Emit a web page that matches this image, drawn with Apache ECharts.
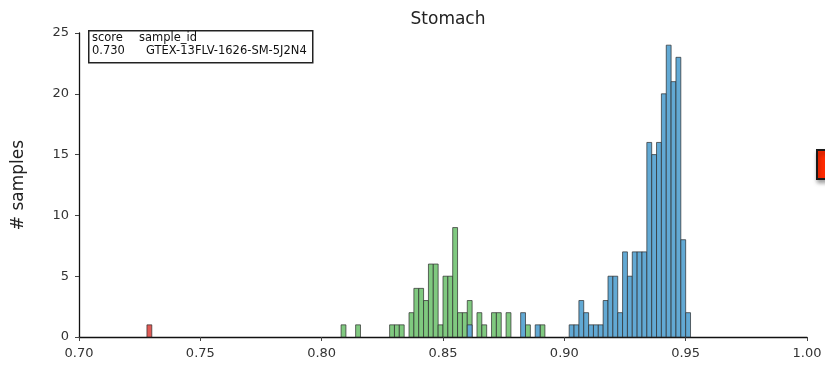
<!DOCTYPE html>
<html><head><meta charset="utf-8">
<script src="https://cdn.jsdelivr.net/npm/echarts@6/dist/echarts.min.js"></script>
<style>html,body{margin:0;padding:0;background:#fff}#c{width:825px;height:377px}</style>
</head><body><div id="c"></div>
<script>
var binWidth = 0.002;
var xTicks = [0.70, 0.75, 0.80, 0.85, 0.90, 0.95, 1.00];
var yTicks = [0, 5, 10, 15, 20, 25];
var redBins = [0.728];
var redCounts = [1];
var greenBins = [0.808, 0.814, 0.828, 0.830, 0.832, 0.836, 0.838, 0.840, 0.842, 0.844, 0.846, 0.848, 0.850, 0.852, 0.854, 0.856, 0.858, 0.860, 0.864, 0.866, 0.870, 0.872, 0.876, 0.884, 0.890];
var greenCounts = [1, 1, 1, 1, 1, 2, 4, 4, 3, 6, 6, 1, 5, 5, 9, 2, 2, 3, 2, 1, 2, 2, 2, 1, 1];
var blueBins = [0.860, 0.882, 0.888, 0.902, 0.904, 0.906, 0.908, 0.910, 0.912, 0.914, 0.916, 0.918, 0.920, 0.922, 0.924, 0.926, 0.928, 0.930, 0.932, 0.934, 0.936, 0.938, 0.940, 0.942, 0.944, 0.946, 0.948, 0.950];
var blueCounts = [1, 2, 1, 1, 1, 3, 2, 1, 1, 1, 3, 5, 5, 2, 7, 5, 7, 7, 7, 16, 15, 16, 20, 24, 21, 23, 8, 2];
var tableHeader = ['score', 'sample_id'];
var tableRow = ['0.730', 'GTEX-13FLV-1626-SM-5J2N4'];

function pairs(b, c) { return b.map(function (v, i) { return [v, c[i]]; }); }
function histSeries(name, bins, counts, color, z) {
  return {
    type: 'custom', name: name, z: z,
    data: pairs(bins, counts),
    renderItem: function (params, api) {
      var x0 = api.value(0), y = api.value(1);
      var p0 = api.coord([x0, y]);
      var p1 = api.coord([x0 + binWidth, 0]);
      return {
        type: 'rect',
        shape: { x: p0[0], y: p0[1], width: p1[0] - p0[0], height: p1[1] - p0[1] },
        style: { fill: color, stroke: '#2b2b2b', lineWidth: 0.7 }
      };
    }
  };
}
var chart = echarts.init(document.getElementById('c'), null, { renderer: 'canvas' });
var ff = 'DejaVu Sans';
var tf = '11.5px "DejaVu Sans"';
chart.setOption({
  animation: false,
  title: { text: 'Stomach', left: 443, top: 6, textAlign: 'center',
    textStyle: { fontFamily: ff, fontSize: 17, fontWeight: 'normal', color: '#222' } },
  grid: { left: 79, right: 18, top: 33, bottom: 40 },
  xAxis: {
    type: 'value', min: 0.70, max: 1.00, interval: 0.05,
    axisLine: { show: true, lineStyle: { color: '#111', width: 1.3 } },
    axisTick: { show: true, length: 4, lineStyle: { color: '#444' } },
    splitLine: { show: false },
    axisLabel: { fontFamily: ff, fontSize: 13, color: '#333', margin: 10,
      formatter: function (v) { return v.toFixed(2); } }
  },
  yAxis: {
    type: 'value', min: 0, max: 25, interval: 5,
    name: '# samples', nameLocation: 'middle', nameGap: 52, nameRotate: 90,
    nameTextStyle: { fontFamily: ff, fontSize: 17, color: '#222' },
    axisLine: { show: true, lineStyle: { color: '#111', width: 1.3 } },
    axisTick: { show: true, length: 4, lineStyle: { color: '#444' } },
    splitLine: { show: false },
    axisLabel: { fontFamily: ff, fontSize: 13, color: '#333', margin: 10 }
  },
  series: [
    histSeries('green', greenBins, greenCounts, '#80c980', 2),
    histSeries('blue', blueBins, blueCounts, '#62a9d4', 3),
    histSeries('red', redBins, redCounts, '#e05a55', 4)
  ],
  graphic: [
    { type: 'rect', left: 88, top: 30, shape: { width: 224, height: 32 },
      style: { fill: '#fff', stroke: '#222', lineWidth: 1.5 }, z: 10 },
    { type: 'text', left: 92, top: 32, z: 11,
      style: { text: tableHeader[0], font: tf, fill: '#111' } },
    { type: 'text', left: 139, top: 32, z: 11,
      style: { text: tableHeader[1], font: tf, fill: '#111' } },
    { type: 'text', left: 92, top: 45, z: 11,
      style: { text: tableRow[0], font: tf, fill: '#111' } },
    { type: 'text', left: 146, top: 45, z: 11,
      style: { text: tableRow[1], font: tf, fill: '#111' } },
    { type: 'rect', left: 816, top: 149, shape: { width: 20, height: 29 }, z: 10,
      style: { fill: '#ff2a00', stroke: '#1a1a1a', lineWidth: 2,
        shadowBlur: 4, shadowColor: 'rgba(0,0,0,0.35)', shadowOffsetX: 1, shadowOffsetY: 3 } }
  ]
});
</script></body></html>
